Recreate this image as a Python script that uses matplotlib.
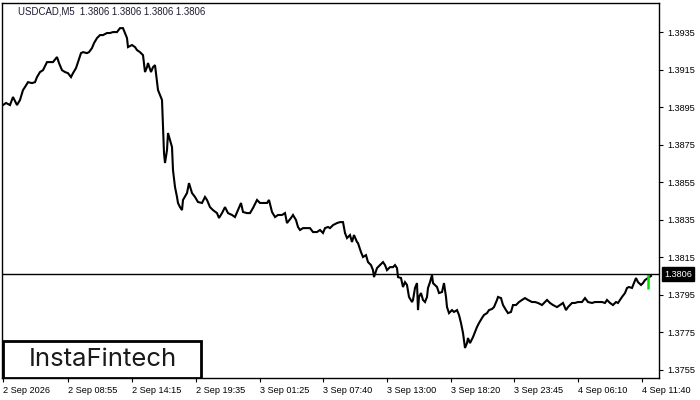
import matplotlib
matplotlib.use("Agg")
import matplotlib.pyplot as plt
from matplotlib.patches import Rectangle
import matplotlib.transforms as mtransforms

plt.rcParams['font.family'] = ['Liberation Sans', 'DejaVu Sans']

# bar index (5 minute bars) and price
bar = [0, 3, 7, 10, 14, 17, 20, 22, 25, 29, 32, 34, 37, 40, 44, 47, 50, 54, 56, 59,
       62, 65, 68, 70, 73, 75, 78, 80, 84, 86, 89, 91, 94, 97, 100, 104, 107, 110, 114, 117,
       120, 122, 124, 125, 129, 132, 134, 137, 140, 142, 144, 145, 148, 150, 152, 154, 155, 157, 159, 160,
       161, 162, 164, 165, 167, 169, 170, 172, 174, 175, 177, 179, 180, 184, 186, 189, 192, 195, 199, 202,
       204, 207, 210, 214, 216, 219, 222, 225, 229, 232, 235, 238, 240, 244, 247, 250, 254, 257, 260, 264,
       266, 269, 272, 275, 279, 282, 284, 288, 290, 293, 295, 297, 300, 304, 307, 310, 314, 317, 320, 322,
       325, 327, 330, 334, 337, 340, 342, 344, 347, 349, 351, 354, 355, 358, 360, 363, 365, 368, 370, 371,
       374, 377, 380, 382, 384, 387, 390, 392, 394, 395, 398, 400, 402, 404, 406, 409, 410, 412, 414, 415,
       416, 418, 420, 422, 424, 425, 427, 429, 430, 434, 436, 439, 441, 443, 444, 446, 449, 451, 454, 456,
       458, 460, 461, 462, 464, 465, 467, 470, 472, 474, 476, 479, 481, 484, 486, 489, 491, 494, 495, 498,
       500, 503, 505, 508, 510, 513, 516, 519, 522, 525, 529, 532, 535, 539, 542, 544, 547, 550, 554, 557,
       560, 563, 565, 569, 572, 575, 579, 582, 585, 589, 592, 595, 599, 602, 604, 607, 610, 613, 615, 619,
       622, 624, 626, 629, 631, 633, 635, 638, 640, 642, 648]
price = [1.38961, 1.38972, 1.38961, 1.39004, 1.38961, 1.38988, 1.39041, 1.39057, 1.39083, 1.39078,
         1.39083, 1.39110, 1.39137, 1.39147, 1.39190, 1.39190, 1.39190, 1.39217, 1.39185, 1.39147,
         1.39137, 1.39131, 1.39110, 1.39131, 1.39158, 1.39190, 1.39238, 1.39243, 1.39238, 1.39243,
         1.39265, 1.39291, 1.39318, 1.39334, 1.39334, 1.39345, 1.39345, 1.39350, 1.39350, 1.39371,
         1.39371, 1.39345, 1.39318, 1.39270, 1.39281, 1.39270, 1.39254, 1.39243, 1.39227, 1.39137,
         1.39163, 1.39185, 1.39137, 1.39163, 1.39174, 1.39083, 1.39041, 1.39014, 1.38988, 1.38844,
         1.38705, 1.38652, 1.38721, 1.38812, 1.38774, 1.38737, 1.38614, 1.38524, 1.38471, 1.38439,
         1.38417, 1.38401, 1.38455, 1.38492, 1.38545, 1.38492, 1.38471, 1.38444, 1.38439, 1.38471,
         1.38455, 1.38417, 1.38401, 1.38385, 1.38359, 1.38385, 1.38417, 1.38385, 1.38375, 1.38364,
         1.38401, 1.38439, 1.38391, 1.38385, 1.38385, 1.38412, 1.38455, 1.38439, 1.38439, 1.38439,
         1.38455, 1.38391, 1.38364, 1.38375, 1.38375, 1.38385, 1.38332, 1.38359, 1.38375, 1.38348,
         1.38311, 1.38295, 1.38305, 1.38305, 1.38305, 1.38284, 1.38284, 1.38295, 1.38279, 1.38305,
         1.38311, 1.38305, 1.38321, 1.38332, 1.38337, 1.38337, 1.38279, 1.38252, 1.38268, 1.38231,
         1.38268, 1.38231, 1.38225, 1.38177, 1.38151, 1.38161, 1.38124, 1.38108, 1.38081, 1.38044,
         1.38092, 1.38108, 1.38124, 1.38108, 1.38081, 1.38097, 1.38097, 1.38108, 1.38092, 1.38044,
         1.38039, 1.37991, 1.38017, 1.38002, 1.37938, 1.37911, 1.37922, 1.37986, 1.38012, 1.37868,
         1.37938, 1.37959, 1.37922, 1.37911, 1.37938, 1.37986, 1.38017, 1.38055, 1.38012, 1.37991,
         1.37959, 1.37964, 1.38012, 1.37938, 1.37884, 1.37852, 1.37868, 1.37858, 1.37868, 1.37842,
         1.37799, 1.37746, 1.37708, 1.37666, 1.37692, 1.37719, 1.37692, 1.37724, 1.37751, 1.37778,
         1.37799, 1.37826, 1.37842, 1.37852, 1.37868, 1.37874, 1.37884, 1.37922, 1.37938, 1.37932,
         1.37895, 1.37868, 1.37852, 1.37858, 1.37895, 1.37895, 1.37911, 1.37922, 1.37932, 1.37922,
         1.37911, 1.37911, 1.37906, 1.37895, 1.37911, 1.37922, 1.37906, 1.37895, 1.37884, 1.37895,
         1.37906, 1.37868, 1.37884, 1.37906, 1.37906, 1.37911, 1.37911, 1.37932, 1.37911, 1.37906,
         1.37911, 1.37911, 1.37911, 1.37906, 1.37922, 1.37906, 1.37895, 1.37911, 1.37906, 1.37938,
         1.37959, 1.37986, 1.37991, 1.37986, 1.38012, 1.38039, 1.38017, 1.38002, 1.38012, 1.38028,
         1.38050]

# current (green) bar
last_bar = 645
last_low = 1.37980
last_high = 1.38062
last_price = 1.3806

symbol = "USDCAD,M5"
yticks = [1.3755, 1.3775, 1.3795, 1.3815, 1.3835, 1.3855, 1.3875, 1.3895, 1.3915, 1.3935]
xtick_bars = [0, 65, 129, 193, 257, 320, 384, 448, 511, 575, 639]
xtick_labels = ["2 Sep 2026", "2 Sep 08:55", "2 Sep 14:15", "2 Sep 19:35", "3 Sep 01:25",
                "3 Sep 07:40", "3 Sep 13:00", "3 Sep 18:20", "3 Sep 23:45", "4 Sep 06:10",
                "4 Sep 11:40"]

fig = plt.figure(figsize=(7, 4), dpi=100)
ax = fig.add_axes([2/700, 22/400, 657/700, 375/400])

ax.plot(bar, price, color='black', lw=1.5, solid_joinstyle='miter')
ax.vlines(last_bar, last_low, last_high, color='#00e000', lw=1.8)
ax.axhline(last_price, color='black', lw=1.0)

ax.set_xlim(-1, 656)
ax.set_ylim(1.37506, 1.39505)

ax.yaxis.tick_right()
ax.set_yticks(yticks)
ax.set_yticklabels([f"{v:.4f}" for v in yticks])
ax.set_xticks(xtick_bars)
ax.set_xticklabels(xtick_labels, ha='left')
ax.tick_params(axis='both', direction='out', length=3, width=0.8, labelsize=6.6, colors='black')
ax.tick_params(axis='y', pad=3)
ax.tick_params(axis='x', pad=3)
for s in ax.spines.values():
    s.set_linewidth(1.0)
    s.set_color('black')

# price tag on the right axis
trans = mtransforms.blended_transform_factory(ax.transAxes, ax.transData)
ax.text(1.008, last_price, f"{last_price:.4f}", transform=trans, ha='left', va='center',
        fontsize=6.6, color='white',
        bbox=dict(boxstyle='square,pad=0.25', facecolor='black', edgecolor='black'))

# header text
ax.text(16/657, 1 - 8/375, f"{symbol}  " + " ".join([f"{last_price:.4f}"] * 4),
        transform=ax.transAxes, ha='left', va='center', fontsize=6.9, color='#1a1a2e')

# logo box
ax.add_patch(Rectangle((1/657, 0), 198/657, 37/375, transform=ax.transAxes,
                       facecolor='white', edgecolor='black', lw=2.0, zorder=5))
ax.text(101/657, 18/375, "InstaFintech", transform=ax.transAxes, ha='center', va='center',
        fontsize=18.5, family=['Inter', 'DejaVu Sans'], fontweight='normal',
        color='#1a1a1a', zorder=6)

fig.savefig("out.png", dpi=100)
